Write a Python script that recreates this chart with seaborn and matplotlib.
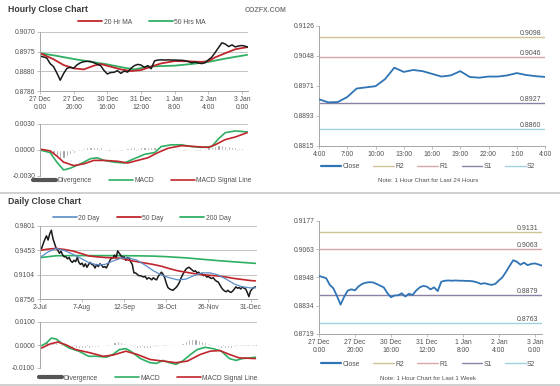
import numpy as np
import matplotlib
matplotlib.use("Agg")
import matplotlib.pyplot as plt
from matplotlib.lines import Line2D
import seaborn as sns

# ---- hourly data (1 week, 1 hour bars, every 2nd bar read) ----
hourly_x = np.arange(0, 125, 2)
hourly_close = [0.8954, 0.8950, 0.8945, 0.8918, 0.8904, 0.8873, 0.8838, 0.8870, 0.8895, 0.8900,
                0.8896, 0.8912, 0.8922, 0.8927, 0.8929, 0.8928, 0.8922, 0.8915, 0.8908, 0.8885,
                0.8868, 0.8875, 0.8876, 0.8884, 0.8871, 0.8882, 0.8877, 0.8895, 0.8908, 0.8914,
                0.8911, 0.8900, 0.8908, 0.8893, 0.8931, 0.8935, 0.8936, 0.8935, 0.8936, 0.8935,
                0.8935, 0.8934, 0.8934, 0.8932, 0.8928, 0.8922, 0.8925, 0.8921, 0.8918, 0.8922,
                0.8936, 0.8949, 0.8971, 0.8995, 0.9018, 0.9012, 0.9000, 0.9008, 0.8998, 0.9003,
                0.9005, 0.9001, 0.8996]

ma20_x = [0, 8, 14, 20, 26, 32, 36, 42, 48, 54, 60, 66, 72, 80, 88, 96, 100, 104, 110, 116, 123]
ma20 = [0.8968, 0.8939, 0.8911, 0.8895, 0.8890, 0.8908, 0.8916, 0.8903, 0.8890, 0.8882, 0.8887,
        0.8903, 0.8919, 0.8930, 0.8929, 0.8926, 0.8930, 0.8948, 0.8968, 0.8987, 0.8997]
ma50_x = [0, 10, 20, 30, 40, 50, 56, 64, 72, 80, 90, 100, 110, 123]
ma50 = [0.8968, 0.8955, 0.8940, 0.8927, 0.8914, 0.8898, 0.8890, 0.8903, 0.8906, 0.8908, 0.8916,
        0.8926, 0.8942, 0.8960]

hmacd_x = [0, 6, 10, 14, 18, 24, 30, 34, 38, 44, 50, 56, 62, 68, 72, 78, 84, 90, 96, 102, 106,
           110, 116, 122, 123]
hmacd = [0.0000, -0.0003, -0.0014, -0.0023, -0.0021, -0.0016, -0.0010, -0.0009, -0.0012, -0.0014,
         -0.0015, -0.0010, -0.0005, -0.0003, 0.0004, 0.0006, 0.0006, 0.0004, 0.0003, 0.0004,
         0.0013, 0.0020, 0.0022, 0.0021, 0.0021]
hsig_x = [0, 6, 10, 14, 20, 26, 32, 38, 46, 52, 58, 64, 70, 76, 84, 92, 100, 104, 110, 116, 123]
hsig = [0.0001, -0.0001, -0.0007, -0.0014, -0.0018, -0.0016, -0.0012, -0.0012, -0.0013, -0.0015,
        -0.0012, -0.0009, -0.0003, 0.0002, 0.0005, 0.0004, 0.0003, 0.0006, 0.0012, 0.0015, 0.0020]
hdiv_x = np.arange(0, 123, 2)
hdiv = [0.0000, -0.0001, -0.0002, -0.0003, -0.0005, -0.0007, -0.0009, -0.0009, -0.0007, -0.0005,
        -0.0003, -0.0001, 0.0000, 0.0002, 0.0003, 0.0004, 0.0004, 0.0004, 0.0003, 0.0001,
        0.0000, -0.0001, -0.0001, -0.0001, 0.0000, 0.0001, 0.0002, 0.0003, 0.0003, 0.0002,
        0.0003, 0.0004, 0.0004, 0.0004, 0.0003, 0.0003, 0.0002, 0.0001, 0.0001, 0.0001,
        0.0001, 0.0001, 0.0000, 0.0000, -0.0001, -0.0001, 0.0000, 0.0000, 0.0001, 0.0002,
        0.0003, 0.0004, 0.0005, 0.0006, 0.0006, 0.0005, 0.0005, 0.0004, 0.0003, 0.0002,
        0.0002, 0.0001]
hourly_ticks = [0, 20, 40, 60, 80, 100, 120]
hourly_ticklabels = ["27 Dec\n0:00", "27 Dec\n20:00", "30 Dec\n16:00", "31 Dec\n12:00",
                     "1 Jan\n8:00", "2 Jan\n4:00", "3 Jan\n0:00"]

# ---- last 24 hours ----
day_hours = np.arange(25)
day_close = [0.8936, 0.8928, 0.8929, 0.8942, 0.8964, 0.8967, 0.8970, 0.8988, 0.9018, 0.9007,
             0.9012, 0.9009, 0.9002, 0.8995, 0.8998, 0.9009, 0.8994, 0.8992, 0.8995, 0.8995,
             0.8998, 0.9004, 0.8999, 0.8996, 0.8994]
day_ticklabels = ["4:00", "7:00", "10:00", "13:00", "16:00", "19:00", "22:00", "1:00", "4:00"]
pivots_24h = {"R2": 0.9098, "R1": 0.9046, "S1": 0.8927, "S2": 0.8860}
pivots_week = {"R2": 0.9131, "R1": 0.9063, "S1": 0.8879, "S2": 0.8763}

# ---- daily data ----
daily_x = np.arange(134)
daily_close = [0.9489, 0.9480, 0.9550, 0.9610, 0.9660, 0.9600, 0.9690, 0.9740, 0.9620, 0.9550,
               0.9480, 0.9455, 0.9410, 0.9440, 0.9385, 0.9360, 0.9360, 0.9330, 0.9350, 0.9300,
               0.9280, 0.9310, 0.9290, 0.9350, 0.9280, 0.9250, 0.9270, 0.9220, 0.9260, 0.9210,
               0.9250, 0.9280, 0.9250, 0.9240, 0.9200, 0.9250, 0.9220, 0.9260, 0.9240, 0.9210,
               0.9220, 0.9200, 0.9250, 0.9300, 0.9340, 0.9340, 0.9385, 0.9350, 0.9444, 0.9410,
               0.9375, 0.9350, 0.9360, 0.9310, 0.9350, 0.9340, 0.9290, 0.9250, 0.9130, 0.9130,
               0.9110, 0.9090, 0.9090, 0.9080, 0.9070, 0.9080, 0.9040, 0.9060, 0.9050, 0.9030,
               0.9060, 0.9040, 0.9030, 0.9080, 0.9110, 0.9140, 0.9110, 0.9060, 0.8980, 0.8920,
               0.8900, 0.8890, 0.8880, 0.8900, 0.8920, 0.8950, 0.8990, 0.9050, 0.9100, 0.9140,
               0.9180, 0.9200, 0.9210, 0.9190, 0.9170, 0.9150, 0.9160, 0.9130, 0.9140, 0.9110,
               0.9120, 0.9090, 0.9100, 0.9070, 0.9080, 0.9060, 0.9050, 0.9060, 0.9030, 0.9010,
               0.9000, 0.8960, 0.8920, 0.8890, 0.8870, 0.8860, 0.8880, 0.8860, 0.8850, 0.8870,
               0.8900, 0.8930, 0.8910, 0.8920, 0.8900, 0.8930, 0.8910, 0.8900, 0.8850, 0.8790,
               0.8870, 0.8900, 0.8920, 0.8930]
dma_x = [0, 5, 10, 15, 20, 25, 30, 35, 40, 45, 50, 55, 60, 65, 70, 75, 80, 85, 90, 95, 100,
         105, 110, 115, 120, 125, 130, 133]
dma20 = [0.9350, 0.9430, 0.9480, 0.9450, 0.9400, 0.9340, 0.9280, 0.9245, 0.9250, 0.9300, 0.9340,
         0.9345, 0.9310, 0.9240, 0.9160, 0.9100, 0.9060, 0.9030, 0.9040, 0.9090, 0.9130, 0.9130,
         0.9100, 0.9040, 0.8970, 0.8930, 0.8915, 0.8915]
dma50 = [0.9453, 0.9470, 0.9480, 0.9465, 0.9444, 0.9410, 0.9373, 0.9360, 0.9350, 0.9345, 0.9340,
         0.9310, 0.9290, 0.9270, 0.9250, 0.9225, 0.9190, 0.9160, 0.9140, 0.9120, 0.9105, 0.9095,
         0.9085, 0.9070, 0.9050, 0.9035, 0.9020, 0.9015]
dma200_x = [0, 5, 10, 20, 30, 40, 50, 60, 70, 78, 90, 100, 110, 120, 133]
dma200 = [0.9347, 0.9362, 0.9375, 0.9377, 0.9377, 0.9377, 0.9376, 0.9374, 0.9370, 0.9362,
          0.9345, 0.9325, 0.9305, 0.9288, 0.9266]

dmacd_x = [1, 4, 7, 10, 14, 18, 24, 30, 35, 41, 45, 49, 53, 56, 62, 68, 72, 76, 80, 84, 88, 93,
           97, 102, 107, 112, 117, 121, 125, 130, 133]
dmacd = [-0.0003, 0.0009, 0.0030, 0.0026, 0.0004, -0.0013, -0.0027, -0.0049, -0.0049, -0.0053,
         -0.0041, -0.0020, -0.0016, -0.0027, -0.0059, -0.0077, -0.0080, -0.0067, -0.0077, -0.0084,
         -0.0070, -0.0041, -0.0020, -0.0010, -0.0016, -0.0027, -0.0059, -0.0067, -0.0059, -0.0056,
         -0.0053]
dsig_x = [1, 6, 11, 16, 22, 31, 39, 45, 53, 60, 68, 76, 84, 91, 99, 105, 111, 117, 123, 133]
dsig = [-0.0013, 0.0004, 0.0013, 0.0001, -0.0020, -0.0034, -0.0049, -0.0044, -0.0027, -0.0041,
        -0.0063, -0.0070, -0.0077, -0.0070, -0.0041, -0.0027, -0.0024, -0.0041, -0.0056, -0.0059]
ddiv_x = np.arange(0, 133, 2)
ddiv = [0.0008, 0.0010, 0.0012, 0.0015, 0.0014, 0.0012, 0.0004, -0.0003, -0.0008, -0.0011,
        -0.0012, -0.0012, -0.0011, -0.0012, -0.0013, -0.0012, -0.0010, -0.0008, -0.0007, -0.0006,
        -0.0004, -0.0001, 0.0006, 0.0012, 0.0016, 0.0014, 0.0010, 0.0004, -0.0002, -0.0008,
        -0.0012, -0.0014, -0.0014, -0.0013, -0.0012, -0.0010, -0.0007, -0.0003, 0.0001, -0.0002,
        -0.0004, -0.0005, -0.0003, 0.0003, 0.0010, 0.0018, 0.0024, 0.0027, 0.0026, 0.0022,
        0.0017, 0.0012, 0.0008, 0.0004, -0.0002, -0.0007, -0.0011, -0.0014, -0.0014, -0.0012,
        -0.0008, -0.0004, -0.0001, 0.0000, 0.0001, 0.0001, 0.0000]
daily_ticks = [0, 26, 52, 78, 104, 130]
daily_ticklabels = ["2-Jul", "7-Aug", "12-Sep", "18-Oct", "26-Nov", "31-Dec"]

# colours
RED = "#C0262C"
GREEN = "#2EAF63"
BLUE = "#2F74B5"
DIV_GRAY = "#8E8E8E"
PIV_COL = {"R2": "#CFC293", "R1": "#D8A8A6", "S1": "#8A82A6", "S2": "#9FD3E3"}

sns.set_theme(style="white")
plt.rcParams["font.family"] = ["Liberation Sans", "DejaVu Sans"]

W, H = 560, 386
fig = plt.figure(figsize=(W / 100, H / 100), dpi=100)


def rect(x0, y0, x1, y1):
    return [x0 / W, 1 - y1 / H, (x1 - x0) / W, (y1 - y0) / H]


def style(ax, yticks, ylabels):
    ax.set_yticks(yticks)
    ax.set_yticklabels(ylabels)
    ax.set_ylim(yticks[0], yticks[-1])
    ax.grid(axis="y", color="#C4C4C4", lw=0.7)
    ax.grid(axis="x", visible=False)
    for s in ["top", "right"]:
        ax.spines[s].set_visible(False)
    for s in ["left", "bottom"]:
        ax.spines[s].set_color("#A6A6A6")
        ax.spines[s].set_linewidth(0.7)
    ax.tick_params(labelsize=4.9, length=2, width=0.5, color="#A6A6A6",
                   labelcolor="#505050", pad=1.5, left=True, bottom=True)
    ax.set_xlabel("")
    ax.set_ylabel("")


def fig_legend(handles, labels, x, y, ncol, spacing=2.5, hl=3.5):
    fig.legend(handles, labels, loc="center", bbox_to_anchor=(x / W, 1 - y / H), ncol=ncol,
               frameon=False, fontsize=4.9, handlelength=hl, handletextpad=0.2,
               columnspacing=spacing, labelcolor="#505050")


# titles
fig.text(8 / W, 1 - 10 / H, "Hourly Close Chart", fontsize=6.3, weight="bold", color="#3A3A3A", va="center")
fig.text(245 / W, 1 - 10 / H, "COZFX.COM", fontsize=5, weight="bold", color="#7A7A7A", va="center")
fig.text(8 / W, 1 - 202 / H, "Daily Close Chart", fontsize=6.3, weight="bold", color="#3A3A3A", va="center")
fig.add_artist(Line2D([0, 1], [1 - 193 / H] * 2, color="#C8C8C8", lw=1.2))
fig.add_artist(Line2D([0, 1], [1 - 384.5 / H] * 2, color="#C8C8C8", lw=1.2))

# ---- hourly price ----
ax1 = fig.add_axes(rect(40, 32, 248, 91))
sns.lineplot(x=ma50_x, y=ma50, ax=ax1, color=GREEN, lw=1.3)
sns.lineplot(x=ma20_x, y=ma20, ax=ax1, color=RED, lw=1.3)
sns.lineplot(x=hourly_x, y=hourly_close, ax=ax1, color="#1A1A1A", lw=1.1)
style(ax1, np.linspace(0.8786, 0.9070, 4), ["0.8786", "0.8880", "0.8975", "0.9070"])
ax1.set_xlim(0, 123.5)
ax1.set_xticks(hourly_ticks)
ax1.set_xticklabels(hourly_ticklabels, linespacing=1.3)
fig_legend([Line2D([], [], color=RED, lw=1.3), Line2D([], [], color=GREEN, lw=1.3)],
           ["20 Hr MA", "50 Hrs MA"], 142, 22, 2)

# ---- hourly MACD ----
ax2 = fig.add_axes(rect(40, 124, 248, 176))
ax2.bar(hdiv_x, hdiv, width=1.3, color=DIV_GRAY, zorder=2)
sns.lineplot(x=hmacd_x, y=hmacd, ax=ax2, color=GREEN, lw=1.2)
sns.lineplot(x=hsig_x, y=hsig, ax=ax2, color=RED, lw=1.2)
style(ax2, [-0.003, 0.0, 0.003], ["-0.0030", "0.0000", "0.0030"])
ax2.set_xlim(0, 123.5)
ax2.set_xticks([])
ax2.spines["bottom"].set_visible(False)
fig_legend([Line2D([], [], color="#555555", lw=3), Line2D([], [], color=GREEN, lw=1.2),
            Line2D([], [], color=RED, lw=1.2)],
           ["Divergence", "MACD", "MACD Signal Line"], 142, 181, 3)

# ---- daily price ----
ax4 = fig.add_axes(rect(40, 226, 257, 299))
sns.lineplot(x=dma200_x, y=dma200, ax=ax4, color=GREEN, lw=1.2)
sns.lineplot(x=daily_x, y=daily_close, ax=ax4, color="#1A1A1A", lw=1.1)
sns.lineplot(x=dma_x, y=dma50, ax=ax4, color=RED, lw=1.2)
sns.lineplot(x=dma_x, y=dma20, ax=ax4, color="#5B8CC8", lw=0.9)
style(ax4, np.linspace(0.8756, 0.9801, 4), ["0.8756", "0.9104", "0.9453", "0.9801"])
ax4.set_xlim(0, 134)
ax4.set_xticks(daily_ticks)
ax4.set_xticklabels(daily_ticklabels)
fig_legend([Line2D([], [], color="#5B8CC8", lw=1.2), Line2D([], [], color=RED, lw=1.3),
            Line2D([], [], color=GREEN, lw=1.3)],
           ["20 Day", "50 Day", "200 Day"], 142, 218, 3)

# ---- daily MACD ----
ax5 = fig.add_axes(rect(40, 322, 257, 368))
ax5.bar(ddiv_x, ddiv, width=1.3, color=DIV_GRAY, zorder=2)
sns.lineplot(x=dmacd_x, y=dmacd, ax=ax5, color=GREEN, lw=1.2)
sns.lineplot(x=dsig_x, y=dsig, ax=ax5, color=RED, lw=1.2)
style(ax5, [-0.01, 0.0, 0.01], ["-0.0100", "0.0000", "0.0100"])
ax5.set_xlim(0, 134)
ax5.set_xticks([])
ax5.spines["bottom"].set_visible(False)
fig_legend([Line2D([], [], color="#555555", lw=3), Line2D([], [], color=GREEN, lw=1.2),
            Line2D([], [], color=RED, lw=1.2)],
           ["Divergence", "MACD", "MACD Signal Line"], 148, 378, 3)


def pivot_panel(ax, pivots, xmax):
    for name, val in pivots.items():
        ax.axhline(val, color=PIV_COL[name], lw=1.0, zorder=1)
        ax.text(xmax * 0.985, val, f"{val:.4f}", fontsize=5, color="#505050",
                ha="right", va="bottom")


piv_handles = [Line2D([], [], color=BLUE, lw=1.6)] + \
              [Line2D([], [], color=PIV_COL[k], lw=1.0) for k in ["R2", "R1", "S1", "S2"]]
piv_labels = ["Close", "R2", "R1", "S1", "S2"]

# ---- last 24 hours ----
ax3 = fig.add_axes(rect(319, 26, 545, 146))
pivot_panel(ax3, pivots_24h, 24)
sns.lineplot(x=day_hours, y=day_close, ax=ax3, color=BLUE, lw=1.3, zorder=3)
style(ax3, np.linspace(0.8815, 0.9126, 5), ["0.8815", "0.8893", "0.8971", "0.9048", "0.9126"])
ax3.grid(False)
ax3.set_xlim(0, 24)
ax3.set_xticks(np.arange(0, 25, 3))
ax3.set_xticklabels(day_ticklabels)
fig_legend(piv_handles, piv_labels, 428, 167, 5, spacing=2.0, hl=3.0)
fig.text(428 / W, 1 - 180 / H, "Note: 1 Hour Chart for Last 24 Hours", fontsize=4.4,
         color="#505050", ha="center", va="center")

# ---- last week hourly ----
ax6 = fig.add_axes(rect(319, 221, 542, 334))
pivot_panel(ax6, pivots_week, 124)
sns.lineplot(x=hourly_x, y=hourly_close, ax=ax6, color=BLUE, lw=1.3, zorder=3)
style(ax6, np.linspace(0.8719, 0.9177, 5), ["0.8719", "0.8834", "0.8948", "0.9063", "0.9177"])
ax6.grid(False)
ax6.set_xlim(0, 124)
ax6.set_xticks(hourly_ticks)
ax6.set_xticklabels(hourly_ticklabels, linespacing=1.3)
fig_legend(piv_handles, piv_labels, 428, 364, 5, spacing=2.0, hl=3.0)
fig.text(428 / W, 1 - 378 / H, "Note: 1 Hour Chart for Last 1 Week", fontsize=4.4,
         color="#505050", ha="center", va="center")

fig.savefig("out.png", dpi=100)
